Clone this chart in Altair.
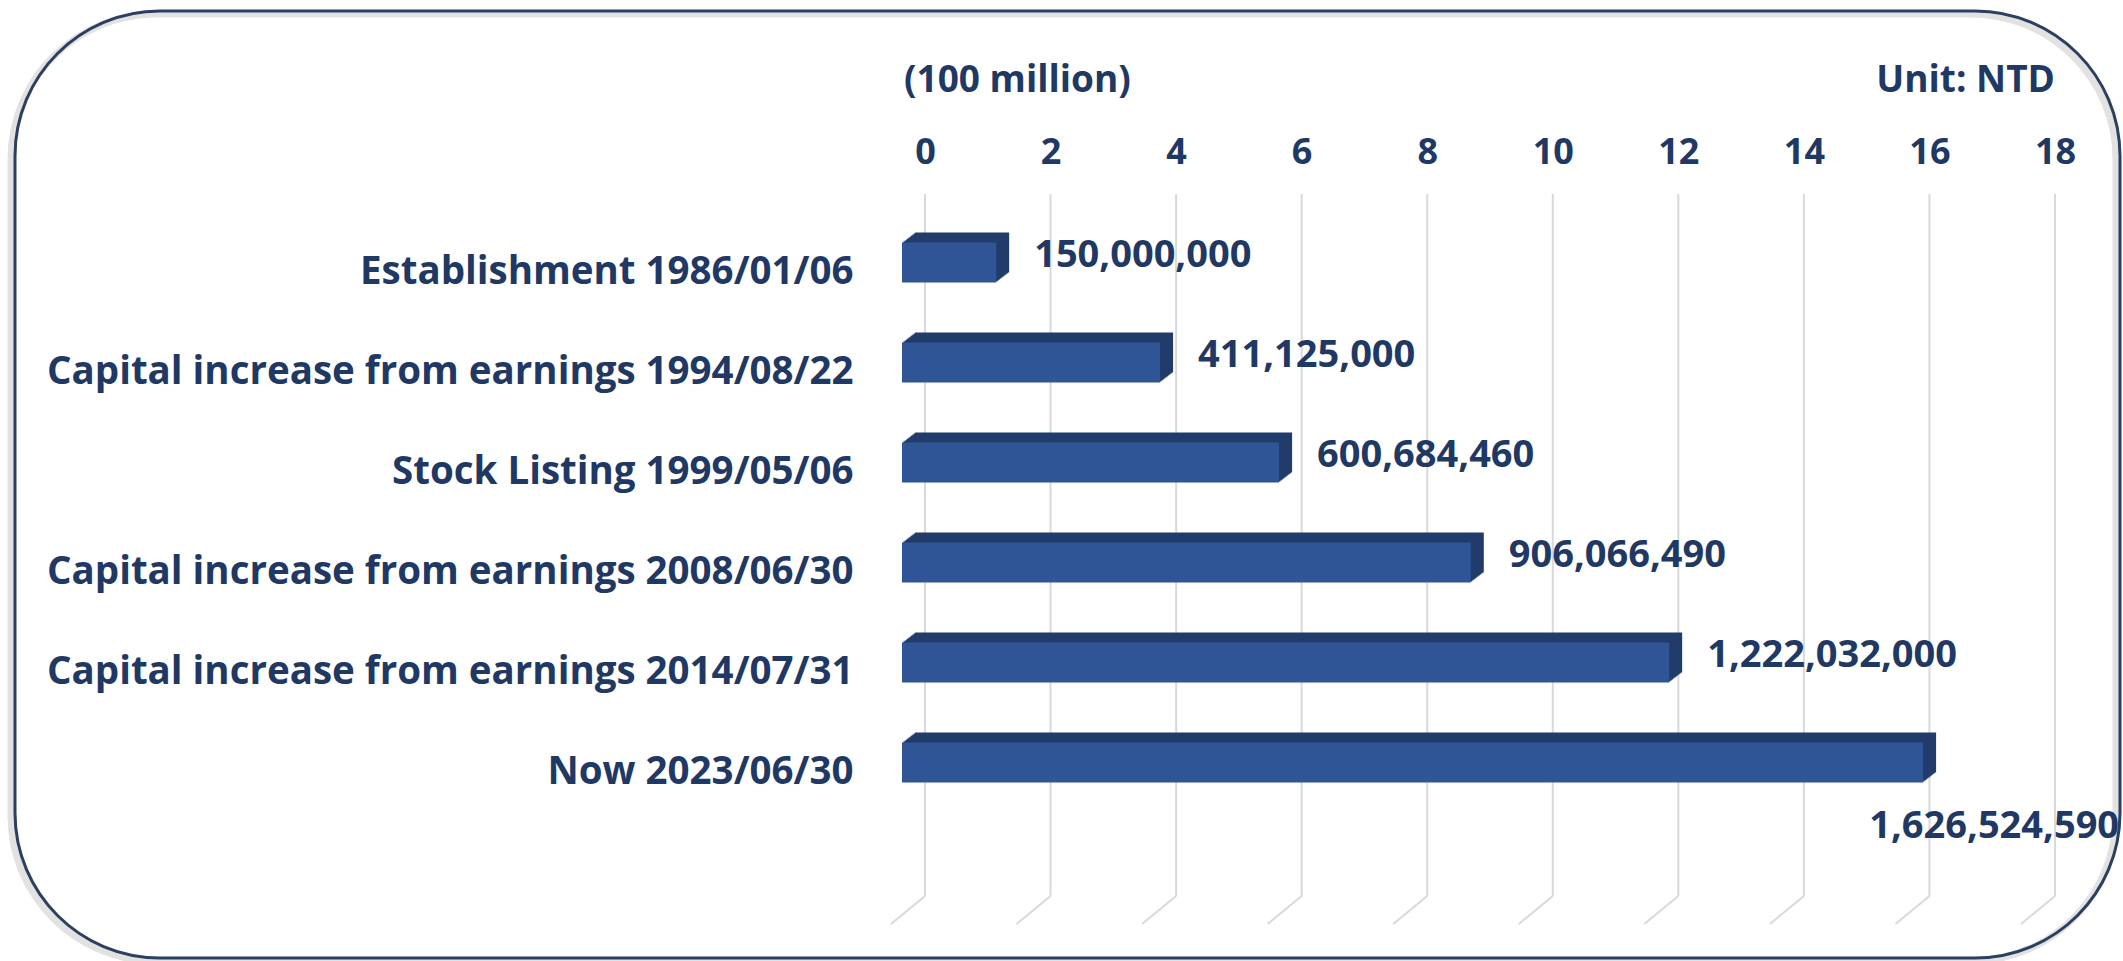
import altair as alt
import pandas as pd

# ---- data ----
categories = [
    "Establishment 1986/01/06",
    "Capital increase from earnings 1994/08/22",
    "Stock Listing 1999/05/06",
    "Capital increase from earnings 2008/06/30",
    "Capital increase from earnings 2014/07/31",
    "Now 2023/06/30",
]
capital_ntd = [150000000, 411125000, 600684460, 906066490, 1222032000, 1626524590]
tick_values = [0, 2, 4, 6, 8, 10, 12, 14, 16, 18]

df = pd.DataFrame({"label": categories, "capital": capital_ntd})
df["v"] = df["capital"] / 1e8
df["txt"] = [f"{c:,}" for c in capital_ntd]
ticks_df = pd.DataFrame({"v": tick_values})

FONT = "Open Sans"
TXT = "#1F3864"
FRONT = "#2F5597"
DARK = "#213C6B"
FS_TICK = 36
FS_CAT = 38.5
FS_VAL = 38
FS_UNIT = 37

W, H = 1130, 702
xscale = alt.Scale(domain=[0, 18], nice=False, zero=True)
yscale = alt.Scale(domain=categories, range=[18.5, 618.5], paddingInner=0, paddingOuter=0)

x_axis = alt.Axis(
    orient="top", values=tick_values, title=None, grid=False, domain=False,
    ticks=False, tickSize=0, labelPadding=31, labelBaseline="alphabetic",
    labelFontSize=FS_TICK, labelFont=FONT, labelFontWeight="bold", labelColor=TXT,
    labelFlush=False, labelOverlap=False,
)
y_axis = alt.Axis(
    title=None, domain=False, ticks=False, tickSize=0, labelPadding=72,
    labelFontSize=FS_CAT, labelFont=FONT, labelFontWeight="bold", labelColor=TXT,
    labelLimit=0, labelOffset=9,
)
X = alt.X("v:Q", scale=xscale, axis=x_axis)
Y = alt.Y("label:N", scale=yscale, sort=categories, axis=y_axis)

base = alt.Chart(df)

# border with soft shadow
one = alt.Data(values=[{"a": 1}])
shadow = alt.Chart(one).mark_rect(
    cornerRadius=145, fillOpacity=0, stroke="#bfbfbf", strokeWidth=7, strokeOpacity=0.45
).encode(x=alt.value(-914), x2=alt.value(1191), y=alt.value(-180), y2=alt.value(767))
border = alt.Chart(one).mark_rect(
    cornerRadius=145, fillOpacity=0, stroke="#2B3F60", strokeWidth=3
).encode(x=alt.value(-910), x2=alt.value(1195), y=alt.value(-183), y2=alt.value(764))

# gridlines (back wall + floor diagonals)
grid_v = alt.Chart(ticks_df).mark_rule(color="#D9D9D9", strokeWidth=2).encode(
    x=X, y=alt.value(0), y2=alt.value(H)
)
grid_d = alt.Chart(ticks_df).mark_rule(color="#D9D9D9", strokeWidth=2, x2Offset=-34).encode(
    x=X, x2="v:Q", y=alt.value(H), y2=alt.value(H + 28)
)

# 3D depth (top + side faces) as a staircase of offset bars
depth_layers = []
N = 10
for k in range(1, N + 1):
    dx = 13.0 * k / N
    dy = 10.0 * k / N
    depth_layers.append(
        base.mark_bar(size=40, color=DARK, xOffset=-23 + dx, x2Offset=-23 + dx, yOffset=-dy).encode(
            x=X, y=Y
        )
    )

front = base.mark_bar(size=40, color=FRONT, xOffset=-23, x2Offset=-23).encode(x=X, y=Y)

val_main = base.transform_filter(alt.datum.v < 16).mark_text(
    align="left", baseline="middle", xOffset=15, yOffset=-7,
    fontSize=FS_VAL, font=FONT, fontWeight="bold", color=TXT,
).encode(x=X, y=Y, text="txt:N")
val_last = base.transform_filter(alt.datum.v >= 16).mark_text(
    align="right", baseline="middle", xOffset=173, yOffset=64,
    fontSize=FS_VAL, font=FONT, fontWeight="bold", color=TXT,
).encode(x=X, y=Y, text="txt:N")

unit_l = alt.Chart(one).mark_text(
    align="left", baseline="middle", fontSize=FS_UNIT, font=FONT, fontWeight="bold", color=TXT
).encode(x=alt.value(-21), y=alt.value(-113), text=alt.value("(100 million)"))
unit_r = alt.Chart(one).mark_text(
    align="right", baseline="middle", fontSize=FS_UNIT, font=FONT, fontWeight="bold", color=TXT
).encode(x=alt.value(W), y=alt.value(-113), text=alt.value("Unit: NTD"))

chart = alt.layer(
    shadow, border, grid_v, grid_d, *depth_layers, front, val_main, val_last, unit_l, unit_r
).properties(
    width=W,
    height=H,
    autosize=alt.AutoSizeParams(type="none"),
    padding={"left": 925, "top": 194, "right": 68, "bottom": 65},
    background="white",
).configure_view(stroke=None)

chart.save("out.html", embed_options={"renderer": "svg", "actions": False})
